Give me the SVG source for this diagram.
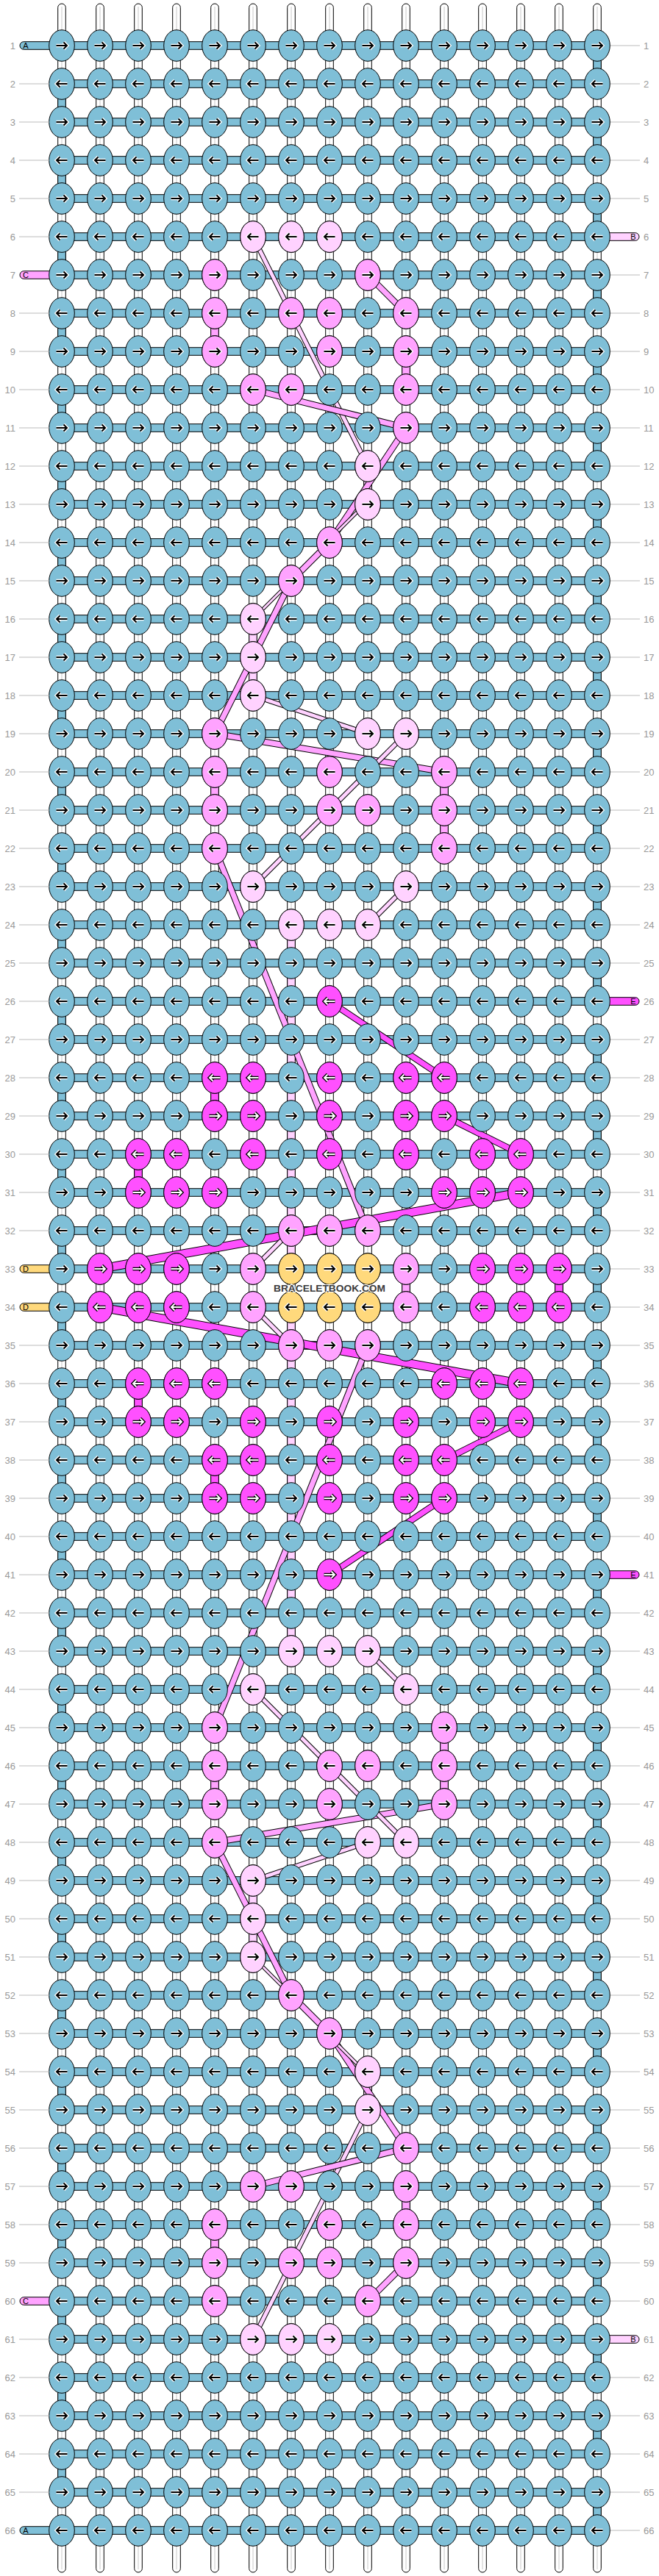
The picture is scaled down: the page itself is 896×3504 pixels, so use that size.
<svg xmlns="http://www.w3.org/2000/svg" width="896" height="3504" viewBox="0 0 896 3504">
<style>
.ws{fill:#fff;stroke:#000;stroke-width:1}
.wc{stroke:#c8c8c8;stroke-width:1}
.hb{fill:#7fbfd7;stroke:#000;stroke-width:1}
.kn{stroke:#000;stroke-width:1}
.ah{fill:none;stroke:#fff;stroke-width:4.6}
.ab{fill:none;stroke:#000;stroke-width:2}
.mh{fill:none;stroke:#000;stroke-width:4.6}
.mb{fill:none;stroke:#fff;stroke-width:2}
.vs{stroke:#000;stroke-width:1}
.ll{font-family:"Liberation Sans",Arial,sans-serif;font-size:13px;fill:#999;text-anchor:end}
.rl{font-family:"Liberation Sans",Arial,sans-serif;font-size:13px;fill:#999}
.gl{stroke:#bbb;stroke-width:1;fill:none}
.pl{stroke:#000;stroke-width:1}
.pt{font-family:"Liberation Sans",Arial,sans-serif;font-size:11px;fill:#000;text-anchor:middle}
.o7{stroke:#000;stroke-width:7}.o9{stroke:#000;stroke-width:9}.o11{stroke:#000;stroke-width:12}.o5{stroke:#000;stroke-width:5}
.cL{stroke:#ffd2ff;stroke-width:5}.cLt{stroke:#ffd2ff;stroke-width:3}.cP{stroke:#ffa3ff;stroke-width:7}.cM{stroke:#ff50ff;stroke-width:7}.cMt{stroke:#ff50ff;stroke-width:10}
</style>
<defs>
<g id="col"><rect class="ws" x="-5.3" y="5" width="10.6" height="3494" rx="5.3"/><line class="wc" x1="0" y1="9" x2="0" y2="3495"/></g>
<rect id="hb" class="hb" x="84" y="-5.3" width="728" height="10.6"/>
<rect id="vs" class="vs" x="-5.3" y="12" width="10.6" height="28"/>
<ellipse id="k" class="kn" rx="17.3" ry="21.3"/>
<path id="ar" d="M-7.5,0H6.5M2.5,-4.5L7,0L2.5,4.5"/>
<path id="al" d="M7.5,0H-6.5M-2.5,-4.5L-7,0L-2.5,4.5"/>
<g id="aR"><use href="#ar" class="ah"/><use href="#ar" class="ab"/></g>
<g id="aL"><use href="#al" class="ah"/><use href="#al" class="ab"/></g>
<g id="wR"><use href="#ar" class="mh"/><use href="#ar" class="mb"/></g>
<g id="wL"><use href="#al" class="mh"/><use href="#al" class="mb"/></g>
<g id="BR"><use href="#k" fill="#7fbfd7"/><use href="#aR"/></g>
<g id="BL"><use href="#k" fill="#7fbfd7"/><use href="#aL"/></g>
<g id="LR"><use href="#k" fill="#ffd2ff"/><use href="#aR"/></g>
<g id="LL"><use href="#k" fill="#ffd2ff"/><use href="#aL"/></g>
<g id="PR"><use href="#k" fill="#ffa3ff"/><use href="#aR"/></g>
<g id="PL"><use href="#k" fill="#ffa3ff"/><use href="#aL"/></g>
<g id="MR"><use href="#k" fill="#ff50ff"/><use href="#wR"/></g>
<g id="ML"><use href="#k" fill="#ff50ff"/><use href="#wL"/></g>
<g id="YR"><use href="#k" fill="#ffd97c"/><use href="#aR"/></g>
<g id="YL"><use href="#k" fill="#ffd97c"/><use href="#aL"/></g>
<g id="RR"><use href="#BR" x="84"/><use href="#BR" x="136"/><use href="#BR" x="188"/><use href="#BR" x="240"/><use href="#BR" x="292"/><use href="#BR" x="344"/><use href="#BR" x="396"/><use href="#BR" x="448"/><use href="#BR" x="500"/><use href="#BR" x="552"/><use href="#BR" x="604"/><use href="#BR" x="656"/><use href="#BR" x="708"/><use href="#BR" x="760"/><use href="#BR" x="812"/></g>
<g id="RL"><use href="#BL" x="84"/><use href="#BL" x="136"/><use href="#BL" x="188"/><use href="#BL" x="240"/><use href="#BL" x="292"/><use href="#BL" x="344"/><use href="#BL" x="396"/><use href="#BL" x="448"/><use href="#BL" x="500"/><use href="#BL" x="552"/><use href="#BL" x="604"/><use href="#BL" x="656"/><use href="#BL" x="708"/><use href="#BL" x="760"/><use href="#BL" x="812"/></g>
</defs>
<rect width="896" height="3504" fill="#fff"/>
<g id="strings">
<use href="#col" x="84"/><use href="#col" x="136"/><use href="#col" x="188"/><use href="#col" x="240"/><use href="#col" x="292"/><use href="#col" x="344"/><use href="#col" x="396"/><use href="#col" x="448"/><use href="#col" x="500"/><use href="#col" x="552"/><use href="#col" x="604"/><use href="#col" x="656"/><use href="#col" x="708"/><use href="#col" x="760"/><use href="#col" x="812"/>
</g>
<g id="weft">
<use href="#hb" y="62"/><use href="#hb" y="114"/><use href="#hb" y="166"/><use href="#hb" y="218"/><use href="#hb" y="270"/><use href="#hb" y="322"/><use href="#hb" y="374"/><use href="#hb" y="426"/><use href="#hb" y="478"/><use href="#hb" y="530"/><use href="#hb" y="582"/><use href="#hb" y="634"/><use href="#hb" y="686"/><use href="#hb" y="738"/><use href="#hb" y="790"/><use href="#hb" y="842"/><use href="#hb" y="894"/><use href="#hb" y="946"/><use href="#hb" y="998"/><use href="#hb" y="1050"/><use href="#hb" y="1102"/><use href="#hb" y="1154"/><use href="#hb" y="1206"/><use href="#hb" y="1258"/><use href="#hb" y="1310"/><use href="#hb" y="1362"/><use href="#hb" y="1414"/><use href="#hb" y="1466"/><use href="#hb" y="1518"/><use href="#hb" y="1570"/><use href="#hb" y="1622"/><use href="#hb" y="1674"/><use href="#hb" y="1726"/><use href="#hb" y="1778"/><use href="#hb" y="1830"/><use href="#hb" y="1882"/><use href="#hb" y="1934"/><use href="#hb" y="1986"/><use href="#hb" y="2038"/><use href="#hb" y="2090"/><use href="#hb" y="2142"/><use href="#hb" y="2194"/><use href="#hb" y="2246"/><use href="#hb" y="2298"/><use href="#hb" y="2350"/><use href="#hb" y="2402"/><use href="#hb" y="2454"/><use href="#hb" y="2506"/><use href="#hb" y="2558"/><use href="#hb" y="2610"/><use href="#hb" y="2662"/><use href="#hb" y="2714"/><use href="#hb" y="2766"/><use href="#hb" y="2818"/><use href="#hb" y="2870"/><use href="#hb" y="2922"/><use href="#hb" y="2974"/><use href="#hb" y="3026"/><use href="#hb" y="3078"/><use href="#hb" y="3130"/><use href="#hb" y="3182"/><use href="#hb" y="3234"/><use href="#hb" y="3286"/><use href="#hb" y="3338"/><use href="#hb" y="3390"/><use href="#hb" y="3442"/>
<g fill="#7fbfd7">
<use href="#vs" x="812" y="62"/><use href="#vs" x="812" y="166"/><use href="#vs" x="812" y="270"/><use href="#vs" x="812" y="374"/><use href="#vs" x="812" y="478"/><use href="#vs" x="812" y="582"/><use href="#vs" x="812" y="686"/><use href="#vs" x="812" y="790"/><use href="#vs" x="812" y="894"/><use href="#vs" x="812" y="998"/><use href="#vs" x="812" y="1102"/><use href="#vs" x="812" y="1206"/><use href="#vs" x="812" y="1310"/><use href="#vs" x="812" y="1414"/><use href="#vs" x="812" y="1518"/><use href="#vs" x="812" y="1622"/><use href="#vs" x="812" y="1726"/><use href="#vs" x="812" y="1830"/><use href="#vs" x="812" y="1934"/><use href="#vs" x="812" y="2038"/><use href="#vs" x="812" y="2142"/><use href="#vs" x="812" y="2246"/><use href="#vs" x="812" y="2350"/><use href="#vs" x="812" y="2454"/><use href="#vs" x="812" y="2558"/><use href="#vs" x="812" y="2662"/><use href="#vs" x="812" y="2766"/><use href="#vs" x="812" y="2870"/><use href="#vs" x="812" y="2974"/><use href="#vs" x="812" y="3078"/><use href="#vs" x="812" y="3182"/><use href="#vs" x="812" y="3286"/><use href="#vs" x="812" y="3390"/>
<use href="#vs" x="84" y="114"/><use href="#vs" x="84" y="218"/><use href="#vs" x="84" y="322"/><use href="#vs" x="84" y="426"/><use href="#vs" x="84" y="530"/><use href="#vs" x="84" y="634"/><use href="#vs" x="84" y="738"/><use href="#vs" x="84" y="842"/><use href="#vs" x="84" y="946"/><use href="#vs" x="84" y="1050"/><use href="#vs" x="84" y="1154"/><use href="#vs" x="84" y="1258"/><use href="#vs" x="84" y="1362"/><use href="#vs" x="84" y="1466"/><use href="#vs" x="84" y="1570"/><use href="#vs" x="84" y="1674"/><use href="#vs" x="84" y="1778"/><use href="#vs" x="84" y="1882"/><use href="#vs" x="84" y="1986"/><use href="#vs" x="84" y="2090"/><use href="#vs" x="84" y="2194"/><use href="#vs" x="84" y="2298"/><use href="#vs" x="84" y="2402"/><use href="#vs" x="84" y="2506"/><use href="#vs" x="84" y="2610"/><use href="#vs" x="84" y="2714"/><use href="#vs" x="84" y="2818"/><use href="#vs" x="84" y="2922"/><use href="#vs" x="84" y="3026"/><use href="#vs" x="84" y="3130"/><use href="#vs" x="84" y="3234"/><use href="#vs" x="84" y="3338"/>
</g>
</g>
<g id="side-strings">
<rect class="pl" x="27" y="56.7" width="57" height="10.6" rx="5.3" fill="#7fbfd7"/><text class="pt" x="35" y="66">A</text>
<rect class="pl" x="27" y="3436.7" width="57" height="10.6" rx="5.3" fill="#7fbfd7"/><text class="pt" x="35" y="3446">A</text>
<rect class="pl" x="27" y="368.7" width="57" height="10.6" rx="5.3" fill="#ffa3ff"/><text class="pt" x="35" y="378">C</text>
<rect class="pl" x="27" y="3124.7" width="57" height="10.6" rx="5.3" fill="#ffa3ff"/><text class="pt" x="35" y="3134">C</text>
<rect class="pl" x="27" y="1720.7" width="57" height="10.6" rx="5.3" fill="#ffd97c"/><text class="pt" x="35" y="1730">D</text>
<rect class="pl" x="27" y="1772.7" width="57" height="10.6" rx="5.3" fill="#ffd97c"/><text class="pt" x="35" y="1782">D</text>
<rect class="pl" x="812" y="316.7" width="57" height="10.6" rx="5.3" fill="#ffd2ff"/><text class="pt" x="861" y="326">B</text>
<rect class="pl" x="812" y="3176.7" width="57" height="10.6" rx="5.3" fill="#ffd2ff"/><text class="pt" x="861" y="3186">B</text>
<rect class="pl" x="812" y="1356.7" width="57" height="10.6" rx="5.3" fill="#ff50ff"/><text class="pt" x="861" y="1366">E</text>
<rect class="pl" x="812" y="2136.7" width="57" height="10.6" rx="5.3" fill="#ff50ff"/><text class="pt" x="861" y="2146">E</text>
</g>
<g id="connectors">
<g id="bandsTop">
<g fill="#ffd2ff"><use href="#vs" x="500" y="634"/><use href="#vs" x="344" y="842"/><use href="#vs" x="344" y="894"/><use href="#vs" x="396" y="1258"/><use href="#vs" x="396" y="1310"/><use href="#vs" x="396" y="1362"/><use href="#vs" x="396" y="1414"/><use href="#vs" x="396" y="1466"/><use href="#vs" x="396" y="1518"/><use href="#vs" x="396" y="1570"/><use href="#vs" x="396" y="1622"/><use href="#vs" x="396" y="1674"/></g>
<g fill="#ffa3ff"><use href="#vs" x="292" y="426"/><use href="#vs" x="552" y="478"/><use href="#vs" x="292" y="1050"/><use href="#vs" x="604" y="1050"/><use href="#vs" x="604" y="1102"/><use href="#vs" x="552" y="1726"/></g>
<g fill="#ff50ff"><use href="#vs" x="292" y="1466"/><use href="#vs" x="188" y="1570"/><use href="#vs" x="760" y="1726"/></g>
<line class="o7" x1="344" y1="322" x2="500" y2="634"/><line class="cL" x1="344" y1="322" x2="500" y2="634"/>
<line class="o9" x1="500" y1="374" x2="552" y2="426"/><line class="cP" x1="500" y1="374" x2="552" y2="426"/>
<line class="o9" x1="344" y1="530" x2="552" y2="582"/><line class="cP" x1="344" y1="530" x2="552" y2="582"/>
<line class="o9" x1="552" y1="582" x2="448" y2="738"/><line class="cP" x1="552" y1="582" x2="448" y2="738"/>
<line class="o5" x1="496" y1="686" x2="444" y2="738"/><line class="cLt" x1="496" y1="686" x2="444" y2="738"/>
<line class="o9" x1="448" y1="738" x2="396" y2="790"/><line class="cP" x1="448" y1="738" x2="396" y2="790"/>
<line class="o5" x1="396" y1="790" x2="344" y2="842"/><line class="cLt" x1="396" y1="790" x2="344" y2="842"/>
<line class="o9" x1="396" y1="790" x2="292" y2="998"/><line class="cP" x1="396" y1="790" x2="292" y2="998"/>
<line class="o7" x1="344" y1="946" x2="500" y2="998"/><line class="cL" x1="344" y1="946" x2="500" y2="998"/>
<line class="o9" x1="292" y1="998" x2="604" y2="1050"/><line class="cP" x1="292" y1="998" x2="604" y2="1050"/>
<line class="o7" x1="552" y1="998" x2="344" y2="1206"/><line class="cL" x1="552" y1="998" x2="344" y2="1206"/>
<line class="o7" x1="552" y1="1206" x2="500" y2="1258"/><line class="cL" x1="552" y1="1206" x2="500" y2="1258"/>
<line class="o9" x1="292" y1="1154" x2="500" y2="1674"/><line class="cP" x1="292" y1="1154" x2="500" y2="1674"/>
<line class="o9" x1="448" y1="1362" x2="604" y2="1466"/><line class="cM" x1="448" y1="1362" x2="604" y2="1466"/>
<line class="o9" x1="604" y1="1518" x2="708" y2="1570"/><line class="cM" x1="604" y1="1518" x2="708" y2="1570"/>
<line class="o11" x1="708" y1="1622" x2="136" y2="1726"/><line class="cMt" x1="708" y1="1622" x2="136" y2="1726"/>
<line class="o7" x1="396" y1="1674" x2="344" y2="1726"/><line class="cL" x1="396" y1="1674" x2="344" y2="1726"/>
</g>
<use href="#bandsTop" transform="matrix(1 0 0 -1 0 3504)"/>
</g>
<g id="knots">
<g id="row-1"><use href="#RR" y="62"/></g><g id="row-2"><use href="#RL" y="114"/></g><g id="row-3"><use href="#RR" y="166"/></g><g id="row-4"><use href="#RL" y="218"/></g><g id="row-5"><use href="#RR" y="270"/></g>
<g id="row-6"><use href="#RL" y="322"/><use href="#LL" x="344" y="322"/><use href="#LL" x="396" y="322"/><use href="#LL" x="448" y="322"/></g>
<g id="row-7"><use href="#RR" y="374"/><use href="#PR" x="292" y="374"/><use href="#PR" x="500" y="374"/></g>
<g id="row-8"><use href="#RL" y="426"/><use href="#PL" x="292" y="426"/><use href="#PL" x="396" y="426"/><use href="#PL" x="448" y="426"/><use href="#PL" x="552" y="426"/></g>
<g id="row-9"><use href="#RR" y="478"/><use href="#PR" x="292" y="478"/><use href="#PR" x="448" y="478"/><use href="#PR" x="552" y="478"/></g>
<g id="row-10"><use href="#RL" y="530"/><use href="#PL" x="344" y="530"/><use href="#PL" x="396" y="530"/><use href="#PL" x="552" y="530"/></g>
<g id="row-11"><use href="#RR" y="582"/><use href="#PR" x="552" y="582"/></g>
<g id="row-12"><use href="#RL" y="634"/><use href="#LL" x="500" y="634"/></g>
<g id="row-13"><use href="#RR" y="686"/><use href="#LR" x="500" y="686"/></g>
<g id="row-14"><use href="#RL" y="738"/><use href="#PL" x="448" y="738"/></g>
<g id="row-15"><use href="#RR" y="790"/><use href="#PR" x="396" y="790"/></g>
<g id="row-16"><use href="#RL" y="842"/><use href="#LL" x="344" y="842"/></g>
<g id="row-17"><use href="#RR" y="894"/><use href="#LR" x="344" y="894"/></g>
<g id="row-18"><use href="#RL" y="946"/><use href="#LL" x="344" y="946"/></g>
<g id="row-19"><use href="#RR" y="998"/><use href="#PR" x="292" y="998"/><use href="#LR" x="500" y="998"/><use href="#LR" x="552" y="998"/></g>
<g id="row-20"><use href="#RL" y="1050"/><use href="#PL" x="292" y="1050"/><use href="#PL" x="448" y="1050"/><use href="#PL" x="604" y="1050"/></g>
<g id="row-21"><use href="#RR" y="1102"/><use href="#PR" x="292" y="1102"/><use href="#PR" x="448" y="1102"/><use href="#PR" x="500" y="1102"/><use href="#PR" x="604" y="1102"/></g>
<g id="row-22"><use href="#RL" y="1154"/><use href="#PL" x="292" y="1154"/><use href="#PL" x="604" y="1154"/></g>
<g id="row-23"><use href="#RR" y="1206"/><use href="#LR" x="344" y="1206"/><use href="#LR" x="552" y="1206"/></g>
<g id="row-24"><use href="#RL" y="1258"/><use href="#LL" x="396" y="1258"/><use href="#LL" x="448" y="1258"/><use href="#LL" x="500" y="1258"/></g>
<g id="row-25"><use href="#RR" y="1310"/></g>
<g id="row-26"><use href="#RL" y="1362"/><use href="#ML" x="448" y="1362"/></g>
<g id="row-27"><use href="#RR" y="1414"/></g>
<g id="row-28"><use href="#RL" y="1466"/><use href="#ML" x="292" y="1466"/><use href="#ML" x="344" y="1466"/><use href="#ML" x="448" y="1466"/><use href="#ML" x="552" y="1466"/><use href="#ML" x="604" y="1466"/></g>
<g id="row-29"><use href="#RR" y="1518"/><use href="#MR" x="292" y="1518"/><use href="#MR" x="344" y="1518"/><use href="#MR" x="448" y="1518"/><use href="#MR" x="552" y="1518"/><use href="#MR" x="604" y="1518"/></g>
<g id="row-30"><use href="#RL" y="1570"/><use href="#ML" x="188" y="1570"/><use href="#ML" x="240" y="1570"/><use href="#ML" x="344" y="1570"/><use href="#ML" x="448" y="1570"/><use href="#ML" x="552" y="1570"/><use href="#ML" x="656" y="1570"/><use href="#ML" x="708" y="1570"/></g>
<g id="row-31"><use href="#RR" y="1622"/><use href="#MR" x="188" y="1622"/><use href="#MR" x="240" y="1622"/><use href="#MR" x="292" y="1622"/><use href="#MR" x="604" y="1622"/><use href="#MR" x="656" y="1622"/><use href="#MR" x="708" y="1622"/></g>
<g id="row-32"><use href="#RL" y="1674"/><use href="#PL" x="396" y="1674"/><use href="#PL" x="448" y="1674"/><use href="#PL" x="500" y="1674"/></g>
<g id="row-33"><use href="#RR" y="1726"/><use href="#MR" x="136" y="1726"/><use href="#MR" x="188" y="1726"/><use href="#MR" x="240" y="1726"/><use href="#PR" x="344" y="1726"/><use href="#YR" x="396" y="1726"/><use href="#YR" x="448" y="1726"/><use href="#YR" x="500" y="1726"/><use href="#PR" x="552" y="1726"/><use href="#MR" x="656" y="1726"/><use href="#MR" x="708" y="1726"/><use href="#MR" x="760" y="1726"/></g>
<g id="row-34"><use href="#RL" y="1778"/><use href="#ML" x="136" y="1778"/><use href="#ML" x="188" y="1778"/><use href="#ML" x="240" y="1778"/><use href="#PL" x="344" y="1778"/><use href="#YL" x="396" y="1778"/><use href="#YL" x="448" y="1778"/><use href="#YL" x="500" y="1778"/><use href="#PL" x="552" y="1778"/><use href="#ML" x="656" y="1778"/><use href="#ML" x="708" y="1778"/><use href="#ML" x="760" y="1778"/></g>
<g id="row-35"><use href="#RR" y="1830"/><use href="#PR" x="396" y="1830"/><use href="#PR" x="448" y="1830"/><use href="#PR" x="500" y="1830"/></g>
<g id="row-36"><use href="#RL" y="1882"/><use href="#ML" x="188" y="1882"/><use href="#ML" x="240" y="1882"/><use href="#ML" x="292" y="1882"/><use href="#ML" x="604" y="1882"/><use href="#ML" x="656" y="1882"/><use href="#ML" x="708" y="1882"/></g>
<g id="row-37"><use href="#RR" y="1934"/><use href="#MR" x="188" y="1934"/><use href="#MR" x="240" y="1934"/><use href="#MR" x="344" y="1934"/><use href="#MR" x="448" y="1934"/><use href="#MR" x="552" y="1934"/><use href="#MR" x="656" y="1934"/><use href="#MR" x="708" y="1934"/></g>
<g id="row-38"><use href="#RL" y="1986"/><use href="#ML" x="292" y="1986"/><use href="#ML" x="344" y="1986"/><use href="#ML" x="448" y="1986"/><use href="#ML" x="552" y="1986"/><use href="#ML" x="604" y="1986"/></g>
<g id="row-39"><use href="#RR" y="2038"/><use href="#MR" x="292" y="2038"/><use href="#MR" x="344" y="2038"/><use href="#MR" x="448" y="2038"/><use href="#MR" x="552" y="2038"/><use href="#MR" x="604" y="2038"/></g>
<g id="row-40"><use href="#RL" y="2090"/></g>
<g id="row-41"><use href="#RR" y="2142"/><use href="#MR" x="448" y="2142"/></g>
<g id="row-42"><use href="#RL" y="2194"/></g>
<g id="row-43"><use href="#RR" y="2246"/><use href="#LR" x="396" y="2246"/><use href="#LR" x="448" y="2246"/><use href="#LR" x="500" y="2246"/></g>
<g id="row-44"><use href="#RL" y="2298"/><use href="#LL" x="344" y="2298"/><use href="#LL" x="552" y="2298"/></g>
<g id="row-45"><use href="#RR" y="2350"/><use href="#PR" x="292" y="2350"/><use href="#PR" x="604" y="2350"/></g>
<g id="row-46"><use href="#RL" y="2402"/><use href="#PL" x="292" y="2402"/><use href="#PL" x="448" y="2402"/><use href="#PL" x="500" y="2402"/><use href="#PL" x="604" y="2402"/></g>
<g id="row-47"><use href="#RR" y="2454"/><use href="#PR" x="292" y="2454"/><use href="#PR" x="448" y="2454"/><use href="#PR" x="604" y="2454"/></g>
<g id="row-48"><use href="#RL" y="2506"/><use href="#PL" x="292" y="2506"/><use href="#LL" x="500" y="2506"/><use href="#LL" x="552" y="2506"/></g>
<g id="row-49"><use href="#RR" y="2558"/><use href="#LR" x="344" y="2558"/></g>
<g id="row-50"><use href="#RL" y="2610"/><use href="#LL" x="344" y="2610"/></g>
<g id="row-51"><use href="#RR" y="2662"/><use href="#LR" x="344" y="2662"/></g>
<g id="row-52"><use href="#RL" y="2714"/><use href="#PL" x="396" y="2714"/></g>
<g id="row-53"><use href="#RR" y="2766"/><use href="#PR" x="448" y="2766"/></g>
<g id="row-54"><use href="#RL" y="2818"/><use href="#LL" x="500" y="2818"/></g>
<g id="row-55"><use href="#RR" y="2870"/><use href="#LR" x="500" y="2870"/></g>
<g id="row-56"><use href="#RL" y="2922"/><use href="#PL" x="552" y="2922"/></g>
<g id="row-57"><use href="#RR" y="2974"/><use href="#PR" x="344" y="2974"/><use href="#PR" x="396" y="2974"/><use href="#PR" x="552" y="2974"/></g>
<g id="row-58"><use href="#RL" y="3026"/><use href="#PL" x="292" y="3026"/><use href="#PL" x="448" y="3026"/><use href="#PL" x="552" y="3026"/></g>
<g id="row-59"><use href="#RR" y="3078"/><use href="#PR" x="292" y="3078"/><use href="#PR" x="396" y="3078"/><use href="#PR" x="448" y="3078"/><use href="#PR" x="552" y="3078"/></g>
<g id="row-60"><use href="#RL" y="3130"/><use href="#PL" x="292" y="3130"/><use href="#PL" x="500" y="3130"/></g>
<g id="row-61"><use href="#RR" y="3182"/><use href="#LR" x="344" y="3182"/><use href="#LR" x="396" y="3182"/><use href="#LR" x="448" y="3182"/></g>
<g id="row-62"><use href="#RL" y="3234"/></g><g id="row-63"><use href="#RR" y="3286"/></g><g id="row-64"><use href="#RL" y="3338"/></g><g id="row-65"><use href="#RR" y="3390"/></g><g id="row-66"><use href="#RL" y="3442"/></g>
</g>
<text x="448" y="1757" text-anchor="middle" font-family="Liberation Sans, Arial, sans-serif" font-weight="bold" font-size="13" fill="#3a3a3a" stroke="#fff" stroke-width="2" paint-order="stroke" textLength="152" lengthAdjust="spacingAndGlyphs">BRACELETBOOK.COM</text>
<g id="labels">
<path class="gl" d="M26,114H67M26,166H67M26,218H67M26,270H67M26,322H67M26,426H67M26,478H67M26,530H67M26,582H67M26,634H67M26,686H67M26,738H67M26,790H67M26,842H67M26,894H67M26,946H67M26,998H67M26,1050H67M26,1102H67M26,1154H67M26,1206H67M26,1258H67M26,1310H67M26,1362H67M26,1414H67M26,1466H67M26,1518H67M26,1570H67M26,1622H67M26,1674H67M26,1830H67M26,1882H67M26,1934H67M26,1986H67M26,2038H67M26,2090H67M26,2142H67M26,2194H67M26,2246H67M26,2298H67M26,2350H67M26,2402H67M26,2454H67M26,2506H67M26,2558H67M26,2610H67M26,2662H67M26,2714H67M26,2766H67M26,2818H67M26,2870H67M26,2922H67M26,2974H67M26,3026H67M26,3078H67M26,3182H67M26,3234H67M26,3286H67M26,3338H67M26,3390H67"/>
<path class="gl" d="M830,62H870M830,114H870M830,166H870M830,218H870M830,270H870M830,374H870M830,426H870M830,478H870M830,530H870M830,582H870M830,634H870M830,686H870M830,738H870M830,790H870M830,842H870M830,894H870M830,946H870M830,998H870M830,1050H870M830,1102H870M830,1154H870M830,1206H870M830,1258H870M830,1310H870M830,1414H870M830,1466H870M830,1518H870M830,1570H870M830,1622H870M830,1674H870M830,1726H870M830,1778H870M830,1830H870M830,1882H870M830,1934H870M830,1986H870M830,2038H870M830,2090H870M830,2194H870M830,2246H870M830,2298H870M830,2350H870M830,2402H870M830,2454H870M830,2506H870M830,2558H870M830,2610H870M830,2662H870M830,2714H870M830,2766H870M830,2818H870M830,2870H870M830,2922H870M830,2974H870M830,3026H870M830,3078H870M830,3130H870M830,3234H870M830,3286H870M830,3338H870M830,3390H870M830,3442H870"/>
<text class="ll" x="21" y="66.5">1</text><text class="ll" x="21" y="118.5">2</text><text class="ll" x="21" y="170.5">3</text><text class="ll" x="21" y="222.5">4</text><text class="ll" x="21" y="274.5">5</text><text class="ll" x="21" y="326.5">6</text><text class="ll" x="21" y="378.5">7</text><text class="ll" x="21" y="430.5">8</text><text class="ll" x="21" y="482.5">9</text><text class="ll" x="21" y="534.5">10</text><text class="ll" x="21" y="586.5">11</text><text class="ll" x="21" y="638.5">12</text><text class="ll" x="21" y="690.5">13</text><text class="ll" x="21" y="742.5">14</text><text class="ll" x="21" y="794.5">15</text><text class="ll" x="21" y="846.5">16</text><text class="ll" x="21" y="898.5">17</text><text class="ll" x="21" y="950.5">18</text><text class="ll" x="21" y="1002.5">19</text><text class="ll" x="21" y="1054.5">20</text><text class="ll" x="21" y="1106.5">21</text><text class="ll" x="21" y="1158.5">22</text><text class="ll" x="21" y="1210.5">23</text><text class="ll" x="21" y="1262.5">24</text><text class="ll" x="21" y="1314.5">25</text><text class="ll" x="21" y="1366.5">26</text><text class="ll" x="21" y="1418.5">27</text><text class="ll" x="21" y="1470.5">28</text><text class="ll" x="21" y="1522.5">29</text><text class="ll" x="21" y="1574.5">30</text><text class="ll" x="21" y="1626.5">31</text><text class="ll" x="21" y="1678.5">32</text><text class="ll" x="21" y="1730.5">33</text><text class="ll" x="21" y="1782.5">34</text><text class="ll" x="21" y="1834.5">35</text><text class="ll" x="21" y="1886.5">36</text><text class="ll" x="21" y="1938.5">37</text><text class="ll" x="21" y="1990.5">38</text><text class="ll" x="21" y="2042.5">39</text><text class="ll" x="21" y="2094.5">40</text><text class="ll" x="21" y="2146.5">41</text><text class="ll" x="21" y="2198.5">42</text><text class="ll" x="21" y="2250.5">43</text><text class="ll" x="21" y="2302.5">44</text><text class="ll" x="21" y="2354.5">45</text><text class="ll" x="21" y="2406.5">46</text><text class="ll" x="21" y="2458.5">47</text><text class="ll" x="21" y="2510.5">48</text><text class="ll" x="21" y="2562.5">49</text><text class="ll" x="21" y="2614.5">50</text><text class="ll" x="21" y="2666.5">51</text><text class="ll" x="21" y="2718.5">52</text><text class="ll" x="21" y="2770.5">53</text><text class="ll" x="21" y="2822.5">54</text><text class="ll" x="21" y="2874.5">55</text><text class="ll" x="21" y="2926.5">56</text><text class="ll" x="21" y="2978.5">57</text><text class="ll" x="21" y="3030.5">58</text><text class="ll" x="21" y="3082.5">59</text><text class="ll" x="21" y="3134.5">60</text><text class="ll" x="21" y="3186.5">61</text><text class="ll" x="21" y="3238.5">62</text><text class="ll" x="21" y="3290.5">63</text><text class="ll" x="21" y="3342.5">64</text><text class="ll" x="21" y="3394.5">65</text><text class="ll" x="21" y="3446.5">66</text>
<text class="rl" x="875" y="66.5">1</text><text class="rl" x="875" y="118.5">2</text><text class="rl" x="875" y="170.5">3</text><text class="rl" x="875" y="222.5">4</text><text class="rl" x="875" y="274.5">5</text><text class="rl" x="875" y="326.5">6</text><text class="rl" x="875" y="378.5">7</text><text class="rl" x="875" y="430.5">8</text><text class="rl" x="875" y="482.5">9</text><text class="rl" x="875" y="534.5">10</text><text class="rl" x="875" y="586.5">11</text><text class="rl" x="875" y="638.5">12</text><text class="rl" x="875" y="690.5">13</text><text class="rl" x="875" y="742.5">14</text><text class="rl" x="875" y="794.5">15</text><text class="rl" x="875" y="846.5">16</text><text class="rl" x="875" y="898.5">17</text><text class="rl" x="875" y="950.5">18</text><text class="rl" x="875" y="1002.5">19</text><text class="rl" x="875" y="1054.5">20</text><text class="rl" x="875" y="1106.5">21</text><text class="rl" x="875" y="1158.5">22</text><text class="rl" x="875" y="1210.5">23</text><text class="rl" x="875" y="1262.5">24</text><text class="rl" x="875" y="1314.5">25</text><text class="rl" x="875" y="1366.5">26</text><text class="rl" x="875" y="1418.5">27</text><text class="rl" x="875" y="1470.5">28</text><text class="rl" x="875" y="1522.5">29</text><text class="rl" x="875" y="1574.5">30</text><text class="rl" x="875" y="1626.5">31</text><text class="rl" x="875" y="1678.5">32</text><text class="rl" x="875" y="1730.5">33</text><text class="rl" x="875" y="1782.5">34</text><text class="rl" x="875" y="1834.5">35</text><text class="rl" x="875" y="1886.5">36</text><text class="rl" x="875" y="1938.5">37</text><text class="rl" x="875" y="1990.5">38</text><text class="rl" x="875" y="2042.5">39</text><text class="rl" x="875" y="2094.5">40</text><text class="rl" x="875" y="2146.5">41</text><text class="rl" x="875" y="2198.5">42</text><text class="rl" x="875" y="2250.5">43</text><text class="rl" x="875" y="2302.5">44</text><text class="rl" x="875" y="2354.5">45</text><text class="rl" x="875" y="2406.5">46</text><text class="rl" x="875" y="2458.5">47</text><text class="rl" x="875" y="2510.5">48</text><text class="rl" x="875" y="2562.5">49</text><text class="rl" x="875" y="2614.5">50</text><text class="rl" x="875" y="2666.5">51</text><text class="rl" x="875" y="2718.5">52</text><text class="rl" x="875" y="2770.5">53</text><text class="rl" x="875" y="2822.5">54</text><text class="rl" x="875" y="2874.5">55</text><text class="rl" x="875" y="2926.5">56</text><text class="rl" x="875" y="2978.5">57</text><text class="rl" x="875" y="3030.5">58</text><text class="rl" x="875" y="3082.5">59</text><text class="rl" x="875" y="3134.5">60</text><text class="rl" x="875" y="3186.5">61</text><text class="rl" x="875" y="3238.5">62</text><text class="rl" x="875" y="3290.5">63</text><text class="rl" x="875" y="3342.5">64</text><text class="rl" x="875" y="3394.5">65</text><text class="rl" x="875" y="3446.5">66</text>
</g>
</svg>
